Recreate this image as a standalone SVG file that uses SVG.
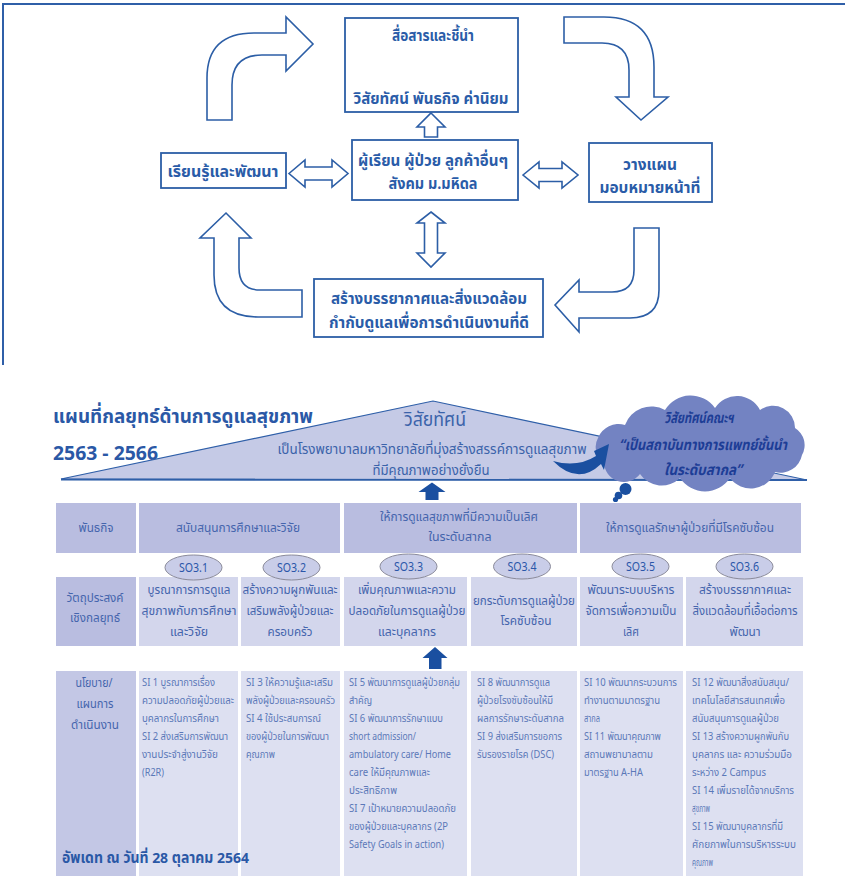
<svg xmlns="http://www.w3.org/2000/svg" width="845" height="882" viewBox="0 0 845 882">
<style>
  .frame{fill:none;stroke:#2f5fa8;stroke-width:2}
  .box{fill:#fff;stroke:#2c5ea6;stroke-width:1.8}
  .hollow{fill:#fff;stroke:#2c5ea6;stroke-width:1.6;stroke-linejoin:miter}
  .t{font-family:"Noto Sans Thai","Tahoma","Noto Sans","DejaVu Sans",sans-serif;}
  .bx{font-size:16px;font-weight:bold;fill:#2a5ca8;text-anchor:middle}
  .title{font-size:20px;font-weight:bold;fill:#2a58a6}
  .vis{fill:#3b63aa;text-anchor:middle}
  .cloudt{font-size:15px;font-weight:bold;font-style:italic;fill:#1d3d96;text-anchor:middle}
  .hdr{fill:#b9bde0}
  .obj{fill:#d3d6ec}
  .pol0{fill:#c3c7e5}
  .pol{fill:#dde0f1}
  .ct{font-size:13px;fill:#4565ad;text-anchor:middle}
  .pt{font-size:11px;fill:#5b78b8}
  .oval{fill:#c9cde8;stroke:#8a8a9a;stroke-width:1}
  .so{font-size:13px;fill:#2a56a8;text-anchor:middle}
  .solid{fill:#1a4fa0}
</style>

<!-- outer frame of the cycle diagram -->
<path class="frame" d="M3 365 L3 4 L845 4"/>

<!-- cycle connectors: bent and double-headed hollow arrows -->
<g id="connectors">
  <path class="hollow" d="M207 120 L207 78 Q207 33 254 33 L286 33 L286 17 L313 44 L286 71 L286 55 L262 55 Q232 55 232 85 L232 120 Z"/>
  <path class="hollow" d="M564 17 L604 17 Q654 17 654 67 L654 97 L668 97 L641 120 L616 97 L629 97 L629 70 Q629 43 602 43 L564 43 Z"/>
  <path class="hollow" d="M634 228 L659 228 L659 290 Q659 318 630 318 L579 318 L579 332 L555 305 L579 280 L579 292 L612 292 Q634 292 634 270 Z"/>
  <path class="hollow" d="M302 290 L260 290 Q239 290 239 268 L239 238 L251 238 L226 213 L200 238 L214 238 L214 275 Q214 317 258 317 L302 317 Z"/>
  <!-- small up arrows inside / above the vision box -->
  <path class="hollow" d="M431 50 L445 65 L437.5 65 L437.5 78 L424.5 78 L424.5 65 L417 65 Z"/>
  <path class="hollow" d="M431 113 L445 127 L437.5 127 L437.5 137 L424.5 137 L424.5 127 L417 127 Z"/>
  <!-- double arrows -->
  <path class="hollow" d="M289 173.5 L305 160 L305 167 L332 167 L332 160 L348 173.5 L332 187 L332 180 L305 180 L305 187 Z"/>
  <path class="hollow" d="M523 175 L539 162 L539 168.5 L562 168.5 L562 162 L578 175 L562 188 L562 181.5 L539 181.5 L539 188 Z"/>
  <path class="hollow" d="M431 212 L445 223 L437.5 223 L437.5 253 L445 253 L431 267 L417 253 L424.5 253 L424.5 223 L417 223 Z"/>
</g>

<g id="vision-box">
  <rect class="box" x="345" y="18" width="173" height="94"/>
  <text class="t bx" x="433" y="41" textLength="82" lengthAdjust="spacingAndGlyphs">สื่อสารและชี้นำ</text>
  <text class="t bx" x="431" y="104" textLength="155" lengthAdjust="spacingAndGlyphs">วิสัยทัศน์ พันธกิจ ค่านิยม</text>
</g>
<g id="stakeholders">
  <rect class="box" x="352" y="140" width="166" height="60"/>
  <text class="t bx" x="433" y="166" textLength="150" lengthAdjust="spacingAndGlyphs">ผู้เรียน ผู้ป่วย ลูกค้าอื่นๆ</text>
  <text class="t bx" x="433" y="189" textLength="89" lengthAdjust="spacingAndGlyphs">สังคม ม.มหิดล</text>
</g>
<g id="learn">
  <rect class="box" x="161" y="153" width="125" height="35"/>
  <text class="t bx" x="223" y="177" textLength="111" lengthAdjust="spacingAndGlyphs">เรียนรู้และพัฒนา</text>
</g>
<g id="plan">
  <rect class="box" x="589" y="143" width="123" height="59"/>
  <text class="t bx" x="650" y="170" textLength="54" lengthAdjust="spacingAndGlyphs">วางแผน</text>
  <text class="t bx" x="650" y="193" textLength="101" lengthAdjust="spacingAndGlyphs">มอบหมายหน้าที่</text>
</g>
<g id="environment">
  <rect class="box" x="314" y="279" width="229" height="58"/>
  <text class="t bx" x="429" y="304" textLength="196" lengthAdjust="spacingAndGlyphs">สร้างบรรยากาศและสิ่งแวดล้อม</text>
  <text class="t bx" x="429" y="328" textLength="200" lengthAdjust="spacingAndGlyphs">กำกับดูแลเพื่อการดำเนินงานที่ดี</text>
</g>

<!-- strategy map heading -->
<g id="heading">
  <text class="t title" x="53" y="423" textLength="260" lengthAdjust="spacingAndGlyphs">แผนที่กลยุทธ์ด้านการดูแลสุขภาพ</text>
  <text class="t title" x="53" y="460" textLength="105" lengthAdjust="spacingAndGlyphs">2563 - 2566</text>
</g>

<!-- vision roof -->
<g id="vision-roof">
  <path d="M61 479 L433 401 L807 480 Z" fill="#c5cae6" stroke="#2f5fa8" stroke-width="1.2"/>
  <line x1="61" y1="479.5" x2="807" y2="480" stroke="#2f5fa8" stroke-width="2"/>
  <text class="t vis" x="435" y="426" font-size="19" textLength="62" lengthAdjust="spacingAndGlyphs">วิสัยทัศน์</text>
  <text class="t vis" x="432" y="454" font-size="13.5" textLength="309" lengthAdjust="spacingAndGlyphs">เป็นโรงพยาบาลมหาวิทยาลัยที่มุ่งสร้างสรรค์การดูแลสุขภาพ</text>
  <text class="t vis" x="431" y="475" font-size="13.5" textLength="117" lengthAdjust="spacingAndGlyphs">ที่มีคุณภาพอย่างยั่งยืน</text>
</g>

<!-- faculty vision cloud -->
<g id="faculty-vision">
  <path d="M604 462 A18 18 0 0 1 598 438 A22 22 0 0 1 625 425 A28 28 0 0 1 665 410 A30 30 0 0 1 715 408 A26 26 0 0 1 760 410 A22 22 0 0 1 795 428 A20 20 0 0 1 802 455 A22 22 0 0 1 775 472 A26 26 0 0 1 730 478 A30 30 0 0 1 680 478 A26 26 0 0 1 640 474 A20 20 0 0 1 604 462 Z" fill="#7383c2"/>
  <!-- curved pointer from the vision text into the cloud -->
  <path class="solid" d="M553 461 Q577 468 596 456 L594 451 L609 444 L604 470 L601 464 Q578 486 553 461 Z"/>
  <circle cx="625.5" cy="489" r="6" class="solid"/>
  <circle cx="618.5" cy="495.5" r="3.8" class="solid"/>
  <circle cx="615.5" cy="499.5" r="2.6" class="solid"/>
  <text class="t cloudt" x="699" y="423" textLength="69" lengthAdjust="spacingAndGlyphs">วิสัยทัศน์คณะฯ</text>
  <text class="t cloudt" x="703" y="450" textLength="168" lengthAdjust="spacingAndGlyphs">“เป็นสถาบันทางการแพทย์ชั้นนำ</text>
  <text class="t cloudt" x="703" y="475" textLength="78" lengthAdjust="spacingAndGlyphs">ในระดับสากล”</text>
</g>

<!-- solid arrows between tiers -->
<g id="tier-arrows">
  <path class="solid" d="M432 482.5 L445.5 492 L438.5 492 L438.5 500 L425.5 500 L425.5 492 L418.5 492 Z"/>
  <path class="solid" d="M435 647 L447.5 658 L441.5 658 L441.5 669 L429 669 L429 658 L422.5 658 Z"/>
</g>

<!-- row: missions -->
<g id="row-mission">
  <rect class="hdr" x="56" y="503" width="80" height="50"/>
  <text class="t ct" x="96" y="532" textLength="35" lengthAdjust="spacingAndGlyphs">พันธกิจ</text>
  <rect class="hdr" x="139" y="503" width="201" height="50"/>
  <text class="t ct" x="238" y="532" textLength="124" lengthAdjust="spacingAndGlyphs">สนับสนุนการศึกษาและวิจัย</text>
  <rect class="hdr" x="344" y="503" width="233" height="50"/>
  <text class="t ct" x="459" y="521" textLength="158" lengthAdjust="spacingAndGlyphs">ให้การดูแลสุขภาพที่มีความเป็นเลิศ</text>
  <text class="t ct" x="460" y="541" textLength="63" lengthAdjust="spacingAndGlyphs">ในระดับสากล</text>
  <rect class="hdr" x="580" y="503" width="221" height="50"/>
  <text class="t ct" x="690" y="532" textLength="168" lengthAdjust="spacingAndGlyphs">ให้การดูแลรักษาผู้ป่วยที่มีโรคซับซ้อน</text>
</g>

<!-- row: strategic objectives -->
<g id="row-objectives">
  <rect class="hdr" x="56" y="577" width="80" height="69"/>
  <text class="t ct" x="95" y="602" textLength="57" lengthAdjust="spacingAndGlyphs">วัตถุประสงค์</text>
  <text class="t ct" x="95" y="622" textLength="50" lengthAdjust="spacingAndGlyphs">เชิงกลยุทธ์</text>

  <rect class="obj" x="139" y="577" width="99" height="69"/>
  <text class="t ct" x="189" y="594" textLength="83" lengthAdjust="spacingAndGlyphs">บูรณาการการดูแล</text>
  <text class="t ct" x="189" y="615" textLength="95" lengthAdjust="spacingAndGlyphs">สุขภาพกับการศึกษา</text>
  <text class="t ct" x="189" y="636" textLength="38" lengthAdjust="spacingAndGlyphs">และวิจัย</text>

  <rect class="obj" x="241" y="577" width="99" height="69"/>
  <text class="t ct" x="290" y="594" textLength="95" lengthAdjust="spacingAndGlyphs">สร้างความผูกพันและ</text>
  <text class="t ct" x="290" y="615" textLength="87" lengthAdjust="spacingAndGlyphs">เสริมพลังผู้ป่วยและ</text>
  <text class="t ct" x="290" y="636" textLength="45" lengthAdjust="spacingAndGlyphs">ครอบครัว</text>

  <rect class="obj" x="344" y="577" width="123" height="69"/>
  <text class="t ct" x="407" y="594" textLength="98" lengthAdjust="spacingAndGlyphs">เพิ่มคุณภาพและความ</text>
  <text class="t ct" x="407" y="615" textLength="117" lengthAdjust="spacingAndGlyphs">ปลอดภัยในการดูแลผู้ป่วย</text>
  <text class="t ct" x="407" y="636" textLength="58" lengthAdjust="spacingAndGlyphs">และบุคลากร</text>

  <rect class="obj" x="471" y="577" width="106" height="69"/>
  <text class="t ct" x="524" y="605" textLength="102" lengthAdjust="spacingAndGlyphs">ยกระดับการดูแลผู้ป่วย</text>
  <text class="t ct" x="526" y="625" textLength="51" lengthAdjust="spacingAndGlyphs">โรคซับซ้อน</text>

  <rect class="obj" x="580" y="577" width="103" height="69"/>
  <text class="t ct" x="631" y="594" textLength="87" lengthAdjust="spacingAndGlyphs">พัฒนาระบบบริหาร</text>
  <text class="t ct" x="631" y="615" textLength="91" lengthAdjust="spacingAndGlyphs">จัดการเพื่อความเป็น</text>
  <text class="t ct" x="631" y="636" textLength="16" lengthAdjust="spacingAndGlyphs">เลิศ</text>

  <rect class="obj" x="686" y="577" width="117" height="69"/>
  <text class="t ct" x="745" y="594" textLength="92" lengthAdjust="spacingAndGlyphs">สร้างบรรยากาศและ</text>
  <text class="t ct" x="745" y="615" textLength="105" lengthAdjust="spacingAndGlyphs">สิ่งแวดล้อมที่เอื้อต่อการ</text>
  <text class="t ct" x="745" y="636" textLength="31" lengthAdjust="spacingAndGlyphs">พัฒนา</text>
</g>

<!-- objective labels -->
<g id="so-labels">
  <ellipse class="oval" cx="193.5" cy="567.5" rx="28.5" ry="12.5"/>
  <text class="t so" x="193.5" y="572" textLength="29" lengthAdjust="spacingAndGlyphs">SO3.1</text>
  <ellipse class="oval" cx="291.5" cy="567.5" rx="28.5" ry="12.5"/>
  <text class="t so" x="291.5" y="572" textLength="29" lengthAdjust="spacingAndGlyphs">SO3.2</text>
  <ellipse class="oval" cx="408.5" cy="566.5" rx="28.5" ry="12.5"/>
  <text class="t so" x="408.5" y="571" textLength="29" lengthAdjust="spacingAndGlyphs">SO3.3</text>
  <ellipse class="oval" cx="522" cy="566.5" rx="28.5" ry="12.5"/>
  <text class="t so" x="522" y="571" textLength="29" lengthAdjust="spacingAndGlyphs">SO3.4</text>
  <ellipse class="oval" cx="640.5" cy="566.5" rx="28.5" ry="12.5"/>
  <text class="t so" x="640.5" y="571" textLength="29" lengthAdjust="spacingAndGlyphs">SO3.5</text>
  <ellipse class="oval" cx="744.5" cy="566.5" rx="28.5" ry="12.5"/>
  <text class="t so" x="744.5" y="571" textLength="29" lengthAdjust="spacingAndGlyphs">SO3.6</text>
</g>

<!-- row: policies / action plans -->
<g id="row-policies">
  <rect class="pol0" x="56" y="671" width="80" height="205"/>
  <text class="t ct" x="94" y="687" textLength="37" lengthAdjust="spacingAndGlyphs">นโยบาย/</text>
  <text class="t ct" x="95" y="708" textLength="37" lengthAdjust="spacingAndGlyphs">แผนการ</text>
  <text class="t ct" x="95" y="729" textLength="48" lengthAdjust="spacingAndGlyphs">ดำเนินงาน</text>

  <rect class="pol" x="139" y="671" width="99" height="205"/>
  <text class="t pt" x="142" y="686" textLength="73" lengthAdjust="spacingAndGlyphs">SI 1 บูรณาการเรื่อง</text>
  <text class="t pt" x="142" y="704" textLength="92" lengthAdjust="spacingAndGlyphs">ความปลอดภัยผู้ป่วยและ</text>
  <text class="t pt" x="142" y="722" textLength="77" lengthAdjust="spacingAndGlyphs">บุคลากรในการศึกษา</text>
  <text class="t pt" x="142" y="740" textLength="86" lengthAdjust="spacingAndGlyphs">SI 2 ส่งเสริมการพัฒนา</text>
  <text class="t pt" x="142" y="758" textLength="76" lengthAdjust="spacingAndGlyphs">งานประจำสู่งานวิจัย</text>
  <text class="t pt" x="142" y="776" textLength="22" lengthAdjust="spacingAndGlyphs">(R2R)</text>

  <rect class="pol" x="241" y="671" width="99" height="205"/>
  <text class="t pt" x="246" y="686" textLength="87" lengthAdjust="spacingAndGlyphs">SI 3 ให้ความรู้และเสริม</text>
  <text class="t pt" x="246" y="704" textLength="89" lengthAdjust="spacingAndGlyphs">พลังผู้ป่วยและครอบครัว</text>
  <text class="t pt" x="246" y="722" textLength="75" lengthAdjust="spacingAndGlyphs">SI 4 ใช้ประสบการณ์</text>
  <text class="t pt" x="246" y="740" textLength="83" lengthAdjust="spacingAndGlyphs">ของผู้ป่วยในการพัฒนา</text>
  <text class="t pt" x="246" y="758" textLength="29" lengthAdjust="spacingAndGlyphs">คุณภาพ</text>

  <rect class="pol" x="344" y="671" width="123" height="205"/>
  <text class="t pt" x="349" y="686" textLength="111" lengthAdjust="spacingAndGlyphs">SI 5 พัฒนาการดูแลผู้ป่วยกลุ่ม</text>
  <text class="t pt" x="349" y="704" textLength="23" lengthAdjust="spacingAndGlyphs">สำคัญ</text>
  <text class="t pt" x="349" y="722" textLength="94" lengthAdjust="spacingAndGlyphs">SI 6 พัฒนาการรักษาแบบ</text>
  <text class="t pt" x="349" y="740" textLength="67" lengthAdjust="spacingAndGlyphs">short admission/</text>
  <text class="t pt" x="349" y="758" textLength="102" lengthAdjust="spacingAndGlyphs">ambulatory care/ Home</text>
  <text class="t pt" x="349" y="776" textLength="81" lengthAdjust="spacingAndGlyphs">care ให้มีคุณภาพและ</text>
  <text class="t pt" x="349" y="794" textLength="48" lengthAdjust="spacingAndGlyphs">ประสิทธิภาพ</text>
  <text class="t pt" x="349" y="812" textLength="107" lengthAdjust="spacingAndGlyphs">SI 7 เป้าหมายความปลอดภัย</text>
  <text class="t pt" x="349" y="830" textLength="99" lengthAdjust="spacingAndGlyphs">ของผู้ป่วยและบุคลากร (2P</text>
  <text class="t pt" x="349" y="848" textLength="95" lengthAdjust="spacingAndGlyphs">Safety Goals in action)</text>

  <rect class="pol" x="471" y="671" width="106" height="205"/>
  <text class="t pt" x="477" y="686" textLength="73" lengthAdjust="spacingAndGlyphs">SI 8 พัฒนาการดูแล</text>
  <text class="t pt" x="477" y="704" textLength="76" lengthAdjust="spacingAndGlyphs">ผู้ป่วยโรงซับซ้อนให้มี</text>
  <text class="t pt" x="477" y="722" textLength="87" lengthAdjust="spacingAndGlyphs">ผลการรักษาระดับสากล</text>
  <text class="t pt" x="477" y="740" textLength="85" lengthAdjust="spacingAndGlyphs">SI 9 ส่งเสริมการขอการ</text>
  <text class="t pt" x="477" y="758" textLength="77" lengthAdjust="spacingAndGlyphs">รับรองรายโรค (DSC)</text>

  <rect class="pol" x="580" y="671" width="103" height="205"/>
  <text class="t pt" x="584" y="686" textLength="93" lengthAdjust="spacingAndGlyphs">SI 10 พัฒนากระบวนการ</text>
  <text class="t pt" x="584" y="704" textLength="76" lengthAdjust="spacingAndGlyphs">ทำงานตามมาตรฐาน</text>
  <text class="t pt" x="584" y="722" textLength="16" lengthAdjust="spacingAndGlyphs">สากล</text>
  <text class="t pt" x="584" y="740" textLength="77" lengthAdjust="spacingAndGlyphs">SI 11 พัฒนาคุณภาพ</text>
  <text class="t pt" x="584" y="758" textLength="69" lengthAdjust="spacingAndGlyphs">สถานพยาบาลตาม</text>
  <text class="t pt" x="584" y="776" textLength="59" lengthAdjust="spacingAndGlyphs">มาตรฐาน A-HA</text>

  <rect class="pol" x="686" y="671" width="117" height="205"/>
  <text class="t pt" x="692" y="686" textLength="97" lengthAdjust="spacingAndGlyphs">SI 12 พัฒนาสิ่งสนับสนุน/</text>
  <text class="t pt" x="692" y="704" textLength="93" lengthAdjust="spacingAndGlyphs">เทคโนโลยีสารสนเทศเพื่อ</text>
  <text class="t pt" x="692" y="722" textLength="87" lengthAdjust="spacingAndGlyphs">สนับสนุนการดูแลผู้ป่วย</text>
  <text class="t pt" x="692" y="740" textLength="97" lengthAdjust="spacingAndGlyphs">SI 13 สร้างความผูกพันกับ</text>
  <text class="t pt" x="692" y="758" textLength="100" lengthAdjust="spacingAndGlyphs">บุคลากร และ ความร่วมมือ</text>
  <text class="t pt" x="692" y="776" textLength="74" lengthAdjust="spacingAndGlyphs">ระหว่าง 2 Campus</text>
  <text class="t pt" x="692" y="794" textLength="102" lengthAdjust="spacingAndGlyphs">SI 14 เพิ่มรายได้จากบริการ</text>
  <text class="t pt" x="692" y="812" textLength="18" lengthAdjust="spacingAndGlyphs">สุขภาพ</text>
  <text class="t pt" x="692" y="830" textLength="91" lengthAdjust="spacingAndGlyphs">SI 15 พัฒนาบุคลากรที่มี</text>
  <text class="t pt" x="692" y="848" textLength="104" lengthAdjust="spacingAndGlyphs">ศักยภาพในการบริหารระบบ</text>
  <text class="t pt" x="692" y="866" textLength="21" lengthAdjust="spacingAndGlyphs">คุณภาพ</text>
</g>

<g id="footer">
  <text class="t" x="62" y="863" font-size="15" font-weight="bold" fill="#2a58a6" textLength="187" lengthAdjust="spacingAndGlyphs">อัพเดท ณ วันที่ 28 ตุลาคม 2564</text>
</g>
</svg>
